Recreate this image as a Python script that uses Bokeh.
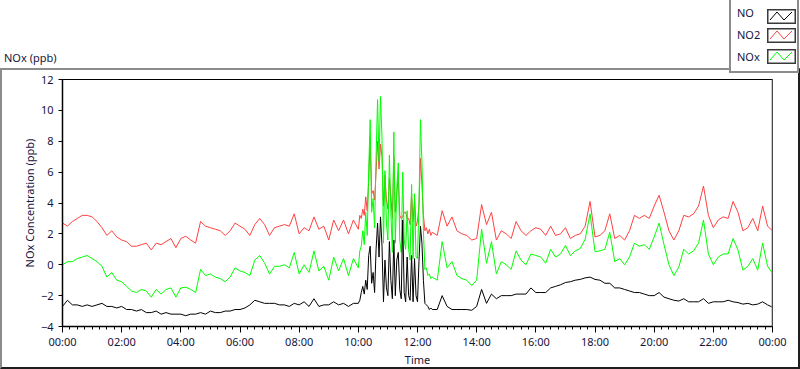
from bokeh.plotting import figure
from bokeh.models import FixedTicker, Range1d, Span, Div
from bokeh.layouts import column
from bokeh.embed import file_html
from bokeh.resources import INLINE

# ---- data (minutes since midnight; ppb) ----
t_calm1 = list(range(0, 601, 10))
t_spike = list(range(603, 751, 3))
t_calm2 = list(range(760, 1441, 10))
time_min = t_calm1 + t_spike + t_calm2

no_1 = [-2.7,-2.3,-2.6,-2.6,-2.7,-2.6,-2.7,-2.6,-2.5,-2.7,
        -2.7,-2.8,-2.7,-2.9,-2.9,-3.0,-2.9,-3.1,-3.1,-3.0,
        -3.2,-3.1,-3.2,-3.2,-3.2,-3.3,-3.2,-3.2,-3.1,-3.2,
        -3.0,-3.1,-3.1,-3.0,-3.0,-2.9,-2.9,-2.8,-2.6,-2.3,
        -2.4,-2.5,-2.5,-2.5,-2.6,-2.6,-2.7,-2.5,-2.6,-2.4,
        -2.7,-2.2,-2.7,-2.6,-2.6,-2.4,-2.6,-2.5,-2.7,-2.5,-2.5]
no2_1 = [2.7,2.5,2.8,3.0,3.2,3.2,3.1,2.8,2.4,1.9,
         2.2,1.8,1.6,1.5,1.2,1.2,1.3,1.4,0.96,1.4,
         1.3,1.5,1.7,1.1,1.7,1.85,1.6,1.4,2.8,2.5,
         2.4,2.3,2.2,1.9,2.2,2.7,2.5,2.3,1.9,2.6,
         3.0,2.6,1.9,2.4,2.5,2.6,2.5,3.3,2.0,2.4,
         2.2,3.1,2.3,2.5,1.6,2.9,2.2,2.9,2.0,2.9,2.3]
nox_1 = [0.0,0.2,0.2,0.4,0.5,0.6,0.4,0.2,-0.1,-0.8,
         -0.5,-1.0,-1.1,-1.4,-1.7,-1.8,-1.6,-1.7,-2.1,-1.6,
         -1.9,-1.6,-1.5,-2.1,-1.5,-1.45,-1.6,-1.8,-0.3,-0.7,
         -0.6,-0.8,-0.9,-1.1,-0.8,-0.2,-0.4,-0.5,-0.7,0.3,
         0.6,0.1,-0.6,-0.1,-0.1,0.0,-0.2,0.8,-0.6,0.0,
         -0.5,0.9,-0.4,-0.1,-1.0,0.5,-0.4,0.4,-0.7,0.4,-0.2]

no_2 = [-2.3,-1.8,-1.4,-1.9,-1.0,-1.6,0.6,1.2,-1.2,-0.5,
        -1.8,1.0,2.7,0.5,3.1,1.2,-2.4,0.3,-1.5,-2.0,
        1.5,-1.0,-2.2,1.6,-2.0,0.3,0.8,-1.6,-2.2,2.9,
        -1.8,-2.4,0.5,-2.0,-2.3,0.6,-2.4,0.4,-2.0,-2.4,
        0.2,2.5,1.4,-1.0,-2.5,-2.6,-2.7,-2.9,-2.8,-2.9]
no2_2 = [3.2,3.0,3.6,3.2,4.4,3.5,5.5,8.2,4.6,4.8,
         4.2,6.0,8.0,6.2,7.8,7.0,3.8,5.8,4.2,3.6,
         5.6,4.4,3.0,7.0,3.4,4.6,5.8,3.2,3.0,3.1,
         3.4,3.4,3.0,3.0,2.6,4.6,2.8,4.2,2.5,2.8,
         3.8,6.9,5.2,3.2,2.2,2.4,2.0,2.3,1.9,2.1]
nox_2 = [0.9,1.2,2.2,1.3,3.4,1.9,6.1,9.4,3.4,4.3,
         2.4,7.0,10.7,6.7,10.9,8.2,1.4,6.1,2.7,1.6,
         7.1,3.4,0.8,8.6,1.4,4.9,6.6,1.6,0.8,6.0,
         1.6,1.0,3.5,1.0,0.3,5.2,0.4,4.6,0.5,0.4,
         4.0,9.4,6.6,2.2,-0.3,-0.2,-0.7,-0.6,-0.9,-0.8]

no_3 = [-2.9,-2.0,-2.7,-2.9,-2.9,-2.9,-2.9,-2.95,-2.7,-1.6,
        -2.5,-1.9,-2.2,-2.0,-2.0,-2.0,-1.9,-1.9,-1.9,-1.5,
        -1.8,-1.8,-1.8,-1.5,-1.4,-1.3,-1.15,-1.1,-1.0,-0.95,
        -0.85,-0.8,-0.95,-1.0,-1.2,-1.2,-1.5,-1.5,-1.6,-1.7,
        -1.8,-1.8,-1.9,-2.0,-2.0,-1.8,-2.1,-2.2,-2.3,-2.35,
        -2.2,-2.4,-2.4,-2.4,-2.2,-2.5,-2.4,-2.4,-2.4,-2.3,
        -2.4,-2.45,-2.55,-2.5,-2.6,-2.55,-2.4,-2.6,-2.75]
no2_3 = [1.9,3.5,2.5,3.1,2.2,2.0,1.9,1.6,1.7,3.9,
         2.6,3.4,1.6,2.2,2.0,1.7,2.8,2.2,1.9,2.2,
         2.4,2.3,1.9,2.5,1.9,2.0,2.4,1.7,1.9,2.0,
         2.5,4.1,1.8,1.9,2.2,3.3,1.7,1.9,1.6,2.2,
         3.2,3.0,3.2,3.0,3.8,4.5,3.4,2.2,1.6,2.2,
         3.2,3.1,3.3,3.8,5.1,3.2,2.4,2.9,3.1,3.0,
         4.1,3.4,2.2,2.4,3.0,2.2,3.8,2.5,2.2]
nox_3 = [-1.0,1.5,-0.2,0.2,-0.7,-0.9,-1.0,-1.35,-1.0,2.3,
         0.1,1.5,-0.6,0.2,0.0,-0.3,0.9,0.3,0.0,0.7,
         0.6,0.5,0.1,1.0,0.5,0.7,1.25,0.6,0.9,1.05,
         1.65,3.3,0.85,0.9,1.0,2.1,0.2,0.4,0.0,0.5,
         1.4,1.2,1.3,1.0,1.8,2.7,1.3,0.0,-0.7,-0.15,
         1.0,0.7,0.9,1.4,2.9,0.7,0.0,0.5,0.7,0.7,
         1.7,0.95,-0.35,-0.1,0.4,-0.35,1.4,-0.1,-0.55]

no_ppb = no_1 + no_2 + no_3
no2_ppb = no2_1 + no2_2 + no2_3
nox_ppb = nox_1 + nox_2 + nox_3

series_names = ["NO", "NO2", "NOx"]
chart_title = "NOx (ppb)"
x_ticks = [0, 120, 240, 360, 480, 600, 720, 840, 960, 1080, 1200, 1320, 1440]
x_tick_labels = ["00:00", "02:00", "04:00", "06:00", "08:00", "10:00", "12:00",
                 "14:00", "16:00", "18:00", "20:00", "22:00", "00:00"]
y_ticks = [-4, -2, 0, 2, 4, 6, 8, 10, 12]

# ---- style ----
FONT = "Noto Sans"
TXT = "#14143c"
RED = "#ff4040"
GREEN = "#00ff00"
W, H = 800, 369

fig = figure(width=W, height=H, output_backend="svg", toolbar_location=None,
             x_range=Range1d(0, 1440), y_range=Range1d(-4, 12),
             min_border_left=62, min_border_right=28, min_border_top=79, min_border_bottom=39)
fig.background_fill_color = "white"
fig.border_fill_color = "white"
fig.outline_line_color = "black"
fig.outline_line_width = 1
fig.xgrid.visible = False
fig.ygrid.visible = False

fig.line(time_min, no2_ppb, color=RED, line_width=1)
fig.line(time_min, nox_ppb, color=GREEN, line_width=1)
fig.line(time_min, no_ppb, color="black", line_width=1)
fig.add_layout(Span(location=1440, dimension="height", line_color="#909090", line_width=2))

xa = fig.xaxis[0]
xa.ticker = FixedTicker(ticks=x_ticks, minor_ticks=list(range(0, 1441, 15)))
xa.major_label_overrides = {t: l for t, l in zip(x_ticks, x_tick_labels)}
xa.axis_label = "Time"
ya = fig.yaxis[0]
ya.ticker = FixedTicker(ticks=y_ticks, minor_ticks=[])
ya.axis_label = "NOx Concentration (ppb)"
for ax in (xa, ya):
    ax.axis_line_color = "black"
    ax.axis_line_width = 1.5
    ax.major_tick_line_color = "black"
    ax.minor_tick_line_color = "black"
    ax.major_tick_in = 0
    ax.minor_tick_in = 0
    ax.major_label_text_font = FONT
    ax.major_label_text_font_size = "11px"
    ax.major_label_text_color = TXT
    ax.axis_label_text_font = FONT
    ax.axis_label_text_font_size = "11px"
    ax.axis_label_text_font_style = "normal"
    ax.axis_label_text_color = TXT
xa.major_tick_out = 6
xa.minor_tick_out = 3
xa.major_label_standoff = 1
xa.axis_label_standoff = 0
ya.major_tick_out = 4
ya.major_label_standoff = 5
ya.axis_label_standoff = 1

# ---- panel decorations as HTML overlays ----
text_css = f"font-family:'{FONT}';font-size:11px;color:{TXT};line-height:16px;"

title_div = Div(text=f"<div style=\"{text_css}white-space:nowrap\">{chart_title}</div>",
                margin=0,
                styles={"position": "absolute", "left": "4px", "top": "50px"})

frame_div = Div(text="", width=800, height=301, margin=0,
                styles={"position": "absolute", "left": "0px", "top": "68px",
                        "box-sizing": "border-box",
                        "border-top": "2px solid #8c8c8c", "border-left": "2px solid #8c8c8c",
                        "border-bottom": "2px solid #1e1e1e", "border-right": "2px solid #1e1e1e",
                        "pointer-events": "none", "background": "transparent"})

swatch_colors = ["black", RED, GREEN]
label_tops = [5, 27, 49]
box_tops = [9, 28, 49]
rows = ""
for name, col, lt, bt in zip(series_names, swatch_colors, label_tops, box_tops):
    rows += (f"<div style=\"position:absolute;left:6px;top:{lt}px;{text_css}\">{name}</div>"
             f"<svg style=\"position:absolute;left:36px;top:{bt}px\" width=\"29\" height=\"15\">"
             f"<rect x=\"0.75\" y=\"0.75\" width=\"27.5\" height=\"13.5\" fill=\"white\" "
             f"stroke=\"#3a3a3a\" stroke-width=\"1.5\"/>"
             f"<polyline points=\"3,11 10,3 17,11 25,3\" fill=\"none\" stroke=\"{col}\" "
             f"stroke-width=\"1\"/></svg>")
legend_div = Div(text=f"<div style=\"position:relative;width:66px;height:71px\">{rows}</div>",
                 width=70, height=75, margin=0,
                 styles={"position": "absolute", "left": "729px", "top": "-2px",
                         "box-sizing": "border-box",
                         "border": "2px solid #8c8c8c", "background": "white"})

p = column(fig, frame_div, legend_div, title_div,
           styles={"position": "absolute", "left": "0px", "top": "0px"})

open("out.html", "w").write(file_html(p, INLINE))
